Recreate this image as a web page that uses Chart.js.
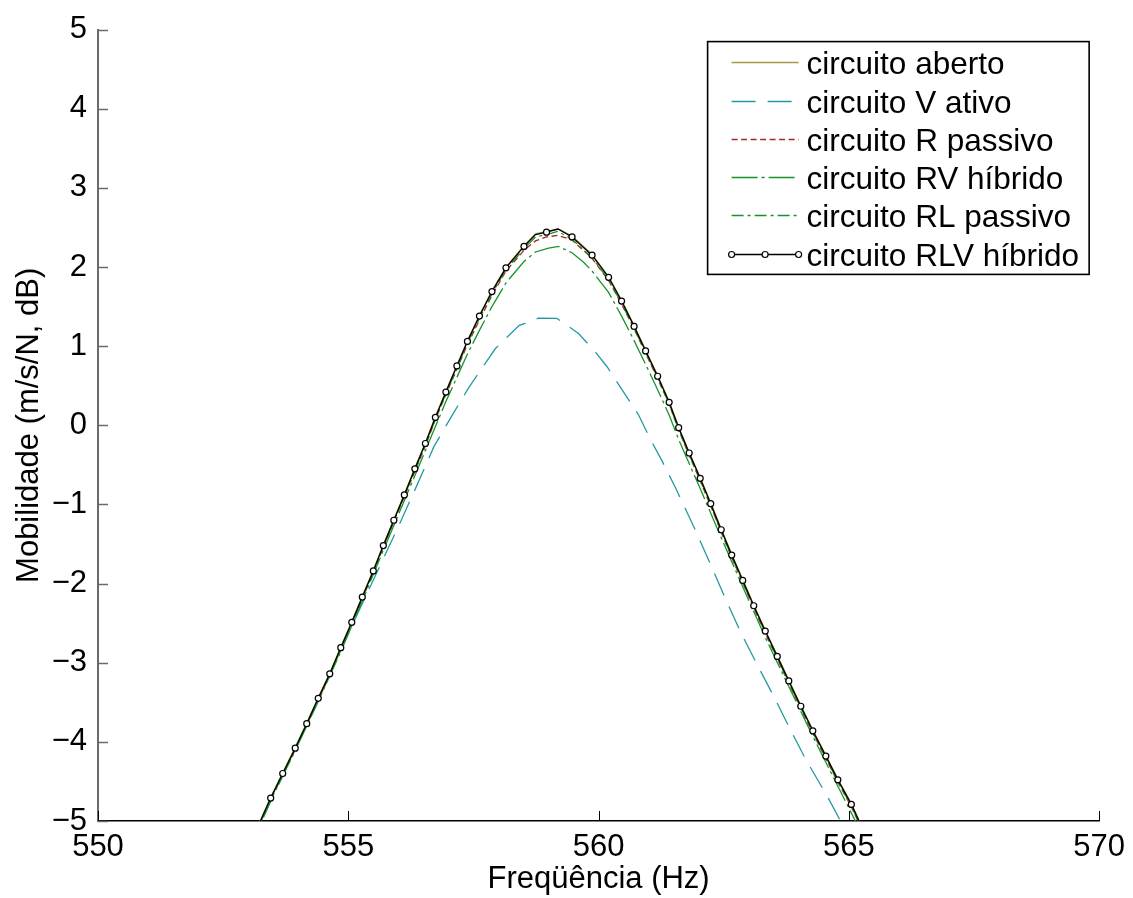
<!DOCTYPE html>
<html>
<head>
<meta charset="utf-8">
<script src="https://cdn.jsdelivr.net/npm/chart.js@4.4.1/dist/chart.umd.min.js"></script>
<style>
html,body{margin:0;padding:0;background:#fff;}
#wrap{width:1133px;height:898px;position:relative;}
</style>
</head>
<body>
<div id="wrap"><canvas id="c" width="1133" height="898"></canvas></div>
<script>
// ---------------- data ----------------
const xTickValues = [550, 555, 560, 565, 570];
const yTickValues = [-5, -4, -3, -2, -1, 0, 1, 2, 3, 4, 5];
const xTitle = 'Freqüência (Hz)';
const yTitle = 'Mobilidade (m/s/N, dB)';

const seriesLabels = ['circuito aberto', 'circuito V ativo', 'circuito R passivo',
                      'circuito RV híbrido', 'circuito RL passivo', 'circuito RLV híbrido'];

// common frequency grid of the top curves (Hz)
const freqTop = [553.00, 553.45, 553.69, 553.94, 554.17, 554.40, 554.63, 554.85, 555.07, 555.28,
                 555.50, 555.70, 555.91, 556.12, 556.33, 556.54, 556.74, 556.95, 557.17, 557.38,
                 557.62, 557.87, 558.15, 558.51, 558.74, 558.96, 559.19, 559.47, 559.87, 560.20,
                 560.46, 560.71, 560.94, 561.18, 561.41, 561.60, 561.81, 562.03, 562.24, 562.45,
                 562.66, 562.88, 563.10, 563.33, 563.57, 563.80, 564.04, 564.28, 564.54, 564.78,
                 565.05, 565.40];

const rlvHibrido = [-5.35, -4.71, -4.40, -4.08, -3.77, -3.45, -3.14, -2.81, -2.49, -2.17,
                    -1.84, -1.52, -1.20, -0.88, -0.55, -0.23, 0.10, 0.42, 0.75, 1.06,
                    1.38, 1.69, 1.99, 2.26, 2.41, 2.44, 2.48, 2.38, 2.15, 1.87,
                    1.57, 1.25, 0.94, 0.62, 0.29, -0.03, -0.35, -0.67, -0.99, -1.32,
                    -1.64, -1.96, -2.28, -2.60, -2.92, -3.23, -3.55, -3.86, -4.18, -4.48,
                    -4.79, -5.27];
// vertices of the RLV line that carry no circle marker
const rlvLineOnly = [0, 24, 26, 51];

const aberto = [-5.34, -4.70, -4.39, -4.07, -3.76, -3.44, -3.13, -2.80, -2.48, -2.16,
                -1.83, -1.51, -1.19, -0.87, -0.54, -0.22, 0.11, 0.43, 0.76, 1.07,
                1.39, 1.70, 2.00, 2.27, 2.42, 2.45, 2.48, 2.39, 2.16, 1.88,
                1.58, 1.26, 0.95, 0.63, 0.30, -0.02, -0.34, -0.66, -0.98, -1.31,
                -1.63, -1.95, -2.27, -2.59, -2.91, -3.22, -3.54, -3.85, -4.17, -4.47,
                -4.78, -5.26];

const rPassivo = [-5.37, -4.73, -4.42, -4.10, -3.79, -3.47, -3.16, -2.83, -2.51, -2.19,
                  -1.86, -1.54, -1.22, -0.90, -0.58, -0.26, 0.07, 0.39, 0.71, 1.02,
                  1.33, 1.64, 1.95, 2.21, 2.33, 2.38, 2.40, 2.34, 2.11, 1.83,
                  1.53, 1.22, 0.91, 0.59, 0.27, -0.06, -0.38, -0.70, -1.02, -1.35,
                  -1.67, -1.99, -2.31, -2.63, -2.95, -3.26, -3.58, -3.89, -4.21, -4.51,
                  -4.82, -5.30];

const rlPassivo = [-5.36, -4.72, -4.41, -4.09, -3.78, -3.46, -3.15, -2.82, -2.50, -2.18,
                   -1.85, -1.53, -1.21, -0.89, -0.57, -0.25, 0.08, 0.40, 0.73, 1.04,
                   1.35, 1.66, 1.97, 2.23, 2.38, 2.41, 2.45, 2.35, 2.12, 1.84,
                   1.54, 1.23, 0.92, 0.60, 0.27, -0.05, -0.37, -0.69, -1.01, -1.34,
                   -1.66, -1.98, -2.30, -2.62, -2.94, -3.25, -3.57, -3.88, -4.20, -4.50,
                   -4.81, -5.29];

const freqRV = [553.00, 553.45, 553.94, 554.40, 554.85, 555.28, 555.70, 556.12, 556.54, 556.95,
                557.38, 557.62, 557.87, 558.15, 558.51, 558.74, 559.00, 559.20, 559.47, 559.70,
                559.87, 560.20, 560.46, 560.71, 560.94, 561.18, 561.41, 561.60, 562.03, 562.45,
                562.88, 563.33, 563.80, 564.28, 564.78, 565.40];
const rvHibrido = [-5.38, -4.74, -4.11, -3.49, -2.86, -2.22, -1.58, -0.95, -0.32, 0.30,
                   0.90, 1.20, 1.50, 1.80, 2.07, 2.19, 2.24, 2.26, 2.18, 2.06,
                   1.95, 1.68, 1.38, 1.07, 0.77, 0.45, 0.13, -0.18, -0.80, -1.42,
                   -2.04, -2.68, -3.30, -3.93, -4.56, -5.34];

const freqV = [553.00, 553.60, 554.20, 554.80, 555.40, 556.00, 556.30, 556.71, 557.06, 557.41,
               557.94, 558.41, 558.80, 559.17, 559.60, 559.93, 560.17, 560.50, 560.80, 561.03,
               561.26, 561.53, 561.93, 562.26, 562.52, 562.85, 563.19, 563.52, 563.78, 564.12,
               564.58, 564.85, 565.20];
const vAtivo = [-5.37, -4.55, -3.73, -2.91, -2.09, -1.28, -0.86, -0.27, 0.11, 0.48,
                0.97, 1.26, 1.355, 1.35, 1.16, 0.93, 0.74, 0.42, 0.13, -0.17,
                -0.44, -0.78, -1.32, -1.79, -2.17, -2.63, -3.05, -3.45, -3.78, -4.20,
                -4.70, -5.02, -5.45];

// ---------------- chart ----------------
const FONT = '"Liberation Sans", Arial, Helvetica, sans-serif';
const TICK_SIZE = 31, TITLE_SIZE = 31, LEG_SIZE = 31.5;

const pts = (xs, ys) => xs.map((x, i) => ({x: x, y: ys[i]}));

Chart.defaults.color = '#000';
Chart.defaults.font.family = FONT;

const datasets = [
  {label: seriesLabels[0], data: pts(freqTop, aberto), borderColor: '#a39a48', borderWidth: 1.3,
   borderDash: [], pointRadius: 0, order: 6},
  {label: seriesLabels[1], data: pts(freqV, vAtivo), borderColor: '#2499a2', borderWidth: 1.3,
   borderDash: [24, 12], pointRadius: 0, order: 5},
  {label: seriesLabels[2], data: pts(freqTop, rPassivo), borderColor: '#a52828', borderWidth: 1.3,
   borderDash: [6, 3.5], pointRadius: 0, order: 4},
  {label: seriesLabels[3], data: pts(freqRV, rvHibrido), borderColor: '#16942a', borderWidth: 1.3,
   borderDash: [26, 4, 3, 4], pointRadius: 0, order: 3},
  {label: seriesLabels[4], data: pts(freqTop, rlPassivo), borderColor: '#16942a', borderWidth: 1.3,
   borderDash: [12, 4, 3, 4], pointRadius: 0, order: 2},
  {label: seriesLabels[5], data: pts(freqTop, rlvHibrido), borderColor: '#000', borderWidth: 1.3,
   borderDash: [], order: 1, legendMarkers: true,
   pointRadius: ctx => rlvLineOnly.includes(ctx.dataIndex) ? 0 : 3,
   pointBackgroundColor: '#fff', pointBorderColor: '#000', pointBorderWidth: 1.2,
   pointHoverRadius: 3}
];
datasets.forEach(d => { d.fill = false; d.tension = 0; });

const matlabAxes = {
  id: 'matlabAxes',
  afterDatasetsDraw(chart) {
    const {ctx, chartArea: a, scales: {x, y}} = chart;
    ctx.save();
    ctx.strokeStyle = '#000';
    ctx.lineWidth = 1;
    xTickValues.forEach(v => {
      const px = Math.round(x.getPixelForValue(v)) + 0.5;
      ctx.beginPath(); ctx.moveTo(px, a.bottom); ctx.lineTo(px, a.bottom - 10); ctx.stroke();
    });
    ctx.strokeStyle = '#6a6a6a';
    ctx.lineWidth = 1.5;
    yTickValues.forEach(v => {
      const py = Math.round(y.getPixelForValue(v)) + 0.5;
      ctx.beginPath(); ctx.moveTo(a.left, py); ctx.lineTo(a.left + 10, py); ctx.stroke();
    });
    ctx.restore();
  }
};

const matlabLegend = {
  id: 'matlabLegend',
  afterDraw(chart) {
    const {ctx, chartArea: a} = chart;
    const ds = chart.data.datasets;
    ctx.save();
    ctx.font = LEG_SIZE + 'px ' + FONT;
    const textW = Math.max(...ds.map(d => ctx.measureText(d.label).width));
    const padL = 24, lineLen = 67, gap = 8, padR = 10, rowH = 38.3, padT = 1.5;
    const w = padL + lineLen + gap + textW + padR;
    const h = ds.length * rowH + 2 * padT;
    const right = a.right - 10, top = a.top + 12, left = right - w;
    ctx.fillStyle = '#fff';
    ctx.fillRect(left, top, w, h);
    ctx.strokeStyle = '#000';
    ctx.lineWidth = 1.6;
    ctx.strokeRect(left, top, w, h);
    ds.forEach((d, i) => {
      const cy = Math.round(top + padT + rowH * (i + 0.5)) + 0.5;
      const x0 = left + padL, x1 = x0 + lineLen;
      ctx.setLineDash(d.borderDash || []);
      ctx.strokeStyle = d.borderColor;
      ctx.lineWidth = d.borderWidth;
      ctx.beginPath(); ctx.moveTo(x0, cy); ctx.lineTo(x1, cy); ctx.stroke();
      ctx.setLineDash([]);
      if (d.legendMarkers) {
        [x0, (x0 + x1) / 2, x1].forEach(mx => {
          ctx.beginPath(); ctx.arc(mx, cy, 3, 0, Math.PI * 2);
          ctx.fillStyle = '#fff'; ctx.fill();
          ctx.strokeStyle = '#000'; ctx.lineWidth = 1.2; ctx.stroke();
        });
      }
      ctx.fillStyle = '#000';
      ctx.textBaseline = 'middle';
      ctx.textAlign = 'left';
      ctx.fillText(d.label, x1 + gap, cy + 2.5);
    });
    ctx.restore();
  }
};

new Chart(document.getElementById('c'), {
  type: 'line',
  data: {datasets: datasets},
  options: {
    responsive: false,
    animation: false,
    devicePixelRatio: 1,
    layout: {padding: {left: 0, top: 29, right: 31, bottom: 0}},
    plugins: {legend: {display: false}, tooltip: {enabled: false}},
    elements: {line: {borderCapStyle: 'butt'}},
    scales: {
      x: {
        type: 'linear', position: 'bottom', min: 550, max: 570,
        afterBuildTicks: s => { s.ticks = xTickValues.map(v => ({value: v})); },
        afterFit: s => { s.height = 77; },
        grid: {display: false, drawTicks: false},
        border: {display: true, color: '#000', width: 1.5},
        ticks: {padding: 8, font: {size: TICK_SIZE, family: FONT}, color: '#000',
                maxRotation: 0, autoSkip: false, callback: v => String(v)},
        title: {display: true, text: xTitle, color: '#000',
                font: {size: TITLE_SIZE, family: FONT}, padding: {top: 0, bottom: 0}}
      },
      y: {
        type: 'linear', position: 'left', min: -5, max: 5,
        afterBuildTicks: s => { s.ticks = yTickValues.map(v => ({value: v})); },
        afterFit: s => { s.width = 98; },
        grid: {display: false, drawTicks: false},
        border: {display: true, color: '#6a6a6a', width: 2},
        ticks: {padding: 11, font: {size: TICK_SIZE, family: FONT}, color: '#000', autoSkip: false,
                callback: v => v < 0 ? '\u2212' + Math.abs(v) : String(v)},
        title: {display: true, text: yTitle, color: '#000',
                font: {size: TITLE_SIZE, family: FONT}, padding: {top: 11, bottom: 0}}
      }
    }
  },
  plugins: [matlabAxes, matlabLegend]
});
</script>
</body>
</html>
